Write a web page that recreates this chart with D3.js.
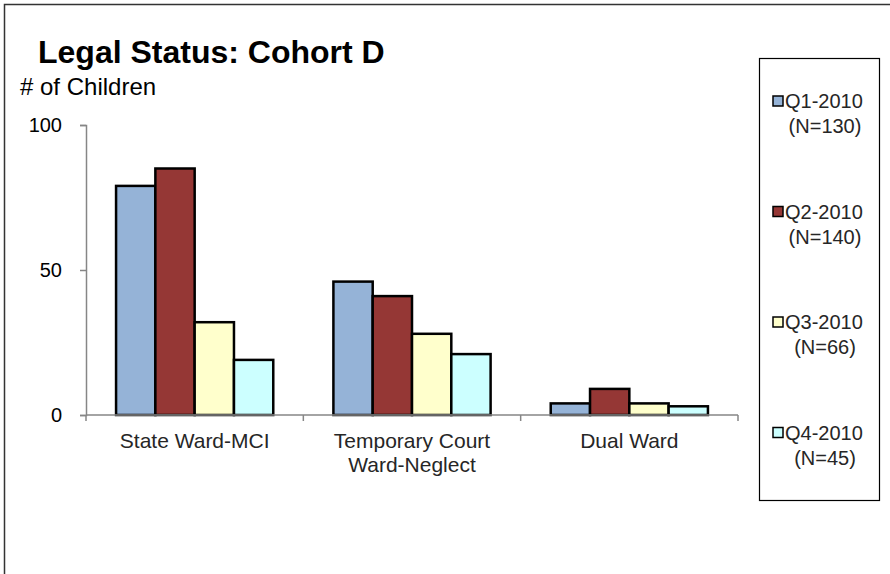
<!DOCTYPE html>
<html>
<head>
<meta charset="utf-8">
<script src="https://cdn.jsdelivr.net/npm/d3@7"></script>
<style>
  body { margin: 0; background: #fff; }
  svg { display: block; font-family: "Liberation Sans", Arial, sans-serif; }
</style>
</head>
<body>
<div id="chart"></div>
<script>
// categories and series
const categories = ["State Ward-MCI", "Temporary Court\nWard-Neglect", "Dual Ward"];
const seriesNames = ["Q1-2010", "Q2-2010", "Q3-2010", "Q4-2010"];
const seriesN = ["(N=130)", "(N=140)", "(N=66)", "(N=45)"];
const seriesColors = ["#95b3d7", "#953735", "#ffffcc", "#ccffff"];

// values per series, one per category
const q1 = [79, 46, 4];
const q2 = [85, 41, 9];
const q3 = [32, 28, 4];
const q4 = [19, 21, 3];
const yTicks = [0, 50, 100];

const values = [q1, q2, q3, q4];

const width = 890, height = 574;
const plot = { left: 86, right: 738, top: 125, bottom: 415 };

const svg = d3.select("#chart").append("svg")
  .attr("width", width).attr("height", height);

// outer frame
svg.append("rect")
  .attr("x", 4.5).attr("y", 4.5)
  .attr("width", 1000).attr("height", 1000)
  .attr("fill", "none").attr("stroke", "#333").attr("stroke-width", 1.5);

// title + y label
svg.append("text").attr("x", 38).attr("y", 63)
  .attr("font-size", 32).attr("font-weight", "bold").attr("fill", "#000")
  .text("Legal Status: Cohort D");
svg.append("text").attr("x", 20).attr("y", 95)
  .attr("font-size", 24).attr("fill", "#000")
  .text("# of Children");

// scales
const x0 = d3.scaleBand().domain(categories).range([plot.left, plot.right]);
const x1 = d3.scaleBand().domain(seriesNames).range([0, x0.bandwidth()]).paddingOuter(0.765);
const y = d3.scaleLinear().domain([0, 100]).range([plot.bottom, plot.top]);

// bars
const groups = svg.append("g").selectAll("g")
  .data(categories)
  .join("g")
  .attr("transform", d => `translate(${x0(d)},0)`);

groups.selectAll("rect")
  .data((c, ci) => seriesNames.map((s, si) => ({ s, si, v: values[si][ci] })))
  .join("rect")
  .attr("x", d => x1(d.s))
  .attr("y", d => y(d.v))
  .attr("width", x1.bandwidth())
  .attr("height", d => y(0) - y(d.v))
  .attr("fill", d => seriesColors[d.si])
  .attr("stroke", "#000")
  .attr("stroke-width", 2.5);

// y axis
const yAxis = svg.append("g")
  .attr("transform", `translate(${plot.left},0)`)
  .call(d3.axisLeft(y).tickValues(yTicks).tickSize(6).tickPadding(18));
yAxis.select(".domain").attr("stroke", "#868686").attr("stroke-width", 1.5);
yAxis.selectAll(".tick line").attr("stroke", "#868686").attr("stroke-width", 1.5);
yAxis.selectAll(".tick text")
  .attr("font-size", 20).attr("fill", "#000")
  .attr("font-family", "\"Liberation Sans\", Arial, sans-serif");

// x axis (ticks at band boundaries)
const xAxisG = svg.append("g").attr("transform", `translate(0,${plot.bottom})`);
xAxisG.append("line")
  .attr("x1", plot.left).attr("x2", plot.right)
  .attr("stroke", "#868686").attr("stroke-width", 1.5);
const edges = categories.map(c => x0(c)).concat([x0.range()[1]]);
xAxisG.selectAll(".edge").data(edges).join("line")
  .attr("x1", d => d).attr("x2", d => d)
  .attr("y1", 0).attr("y2", 6)
  .attr("stroke", "#868686").attr("stroke-width", 1.5);

xAxisG.selectAll(".cat").data(categories).join("text")
  .attr("text-anchor", "middle")
  .attr("font-size", 21).attr("fill", "#262626")
  .attr("transform", d => `translate(${x0(d) + x0.bandwidth() / 2},33)`)
  .selectAll("tspan")
  .data(d => d.split("\n"))
  .join("tspan")
  .attr("x", 0)
  .attr("y", (d, i) => i * 24)
  .text(d => d);

// legend
const legend = svg.append("g");
legend.append("rect")
  .attr("x", 759.5).attr("y", 58.5).attr("width", 120).attr("height", 442)
  .attr("fill", "#fff").attr("stroke", "#000").attr("stroke-width", 1.2);

const items = legend.selectAll(".item").data(seriesNames).join("g")
  .attr("transform", (d, i) => `translate(0,${108 + i * 110.5})`);
items.append("rect")
  .attr("x", 773).attr("y", -12).attr("width", 10).attr("height", 10)
  .attr("fill", (d, i) => seriesColors[i])
  .attr("stroke", "#000").attr("stroke-width", 1.5);
items.append("text")
  .attr("x", 785).attr("font-size", 20).attr("fill", "#262626")
  .text(d => d);
items.append("text")
  .attr("x", 825).attr("y", 25).attr("text-anchor", "middle")
  .attr("font-size", 20).attr("fill", "#262626")
  .text((d, i) => seriesN[i]);
</script>
</body>
</html>
